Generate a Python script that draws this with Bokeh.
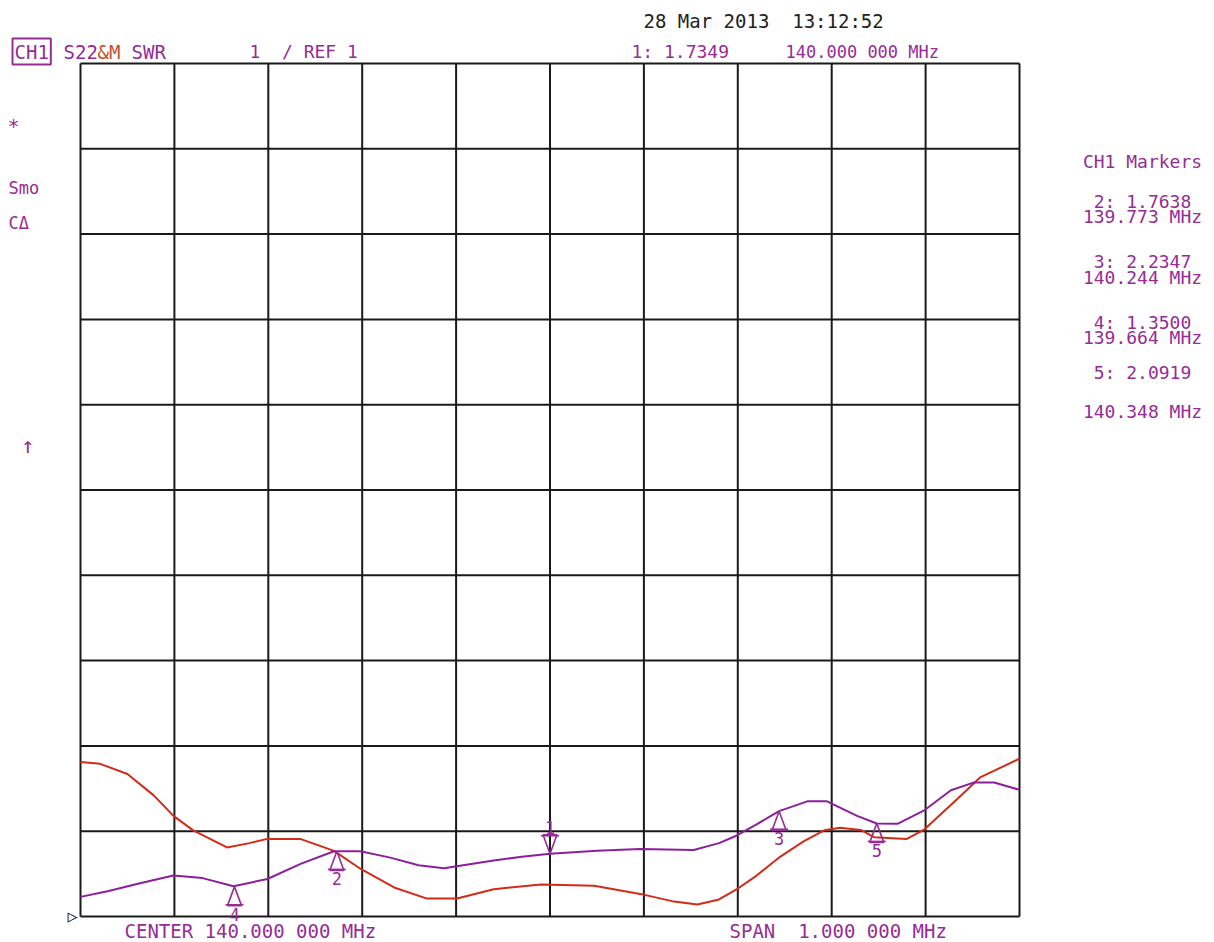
from bokeh.plotting import figure
from bokeh.models import Label, Range1d, ColumnDataSource
from bokeh.embed import file_html
from bokeh.resources import INLINE
from bokeh.core.properties import value

# ---------------- data ----------------
f_start, f_stop = 139.5, 140.5
swr_ref, swr_div, n_div = 1.0, 1.0, 10

purple_freq = [139.500, 139.530, 139.560, 139.599, 139.630, 139.663, 139.699, 139.735,
               139.770, 139.798, 139.830, 139.860, 139.887, 139.940, 139.970, 140.000,
               140.050, 140.096, 140.153, 140.180, 140.199, 140.220, 140.244, 140.274,
               140.295, 140.327, 140.348, 140.370, 140.398, 140.427, 140.451, 140.473, 140.500]
purple_swr = [1.23, 1.30, 1.38, 1.48, 1.45, 1.355, 1.44, 1.62,
              1.765, 1.765, 1.69, 1.60, 1.566, 1.656, 1.70, 1.735,
              1.77, 1.79, 1.78, 1.86, 1.95, 2.08, 2.235, 2.35,
              2.35, 2.18, 2.09, 2.087, 2.24, 2.48, 2.57, 2.57, 2.485]

red_freq = [139.500, 139.521, 139.550, 139.578, 139.599, 139.620, 139.656, 139.680,
            139.699, 139.734, 139.770, 139.798, 139.834, 139.869, 139.901, 139.940,
            139.990, 140.047, 140.096, 140.130, 140.157, 140.180, 140.199, 140.220,
            140.245, 140.270, 140.292, 140.309, 140.331, 140.345, 140.380, 140.398,
            140.434, 140.458, 140.500]
red_swr = [2.81, 2.79, 2.67, 2.42, 2.18, 2.01, 1.81, 1.86,
           1.91, 1.91, 1.77, 1.56, 1.34, 1.21, 1.21, 1.32,
           1.375, 1.36, 1.265, 1.18, 1.14, 1.20, 1.32, 1.48,
           1.70, 1.88, 2.01, 2.04, 2.015, 1.93, 1.91, 2.015,
           2.38, 2.63, 2.85]

marker_ids = ["1", "2", "3", "4", "5"]
marker_freqs = [140.000, 139.773, 140.244, 139.664, 140.348]
marker_vals = [1.7349, 1.7638, 2.2347, 1.3500, 2.0919]
active_marker = "1"

NB = "\u00a0"
date_text = f"28 Mar 2013 {NB}13:12:52"
scale_text = f"1 {NB}/ REF 1"
center_text = "CENTER 140.000 000 MHz"
span_text = f"SPAN {NB}1.000 000 MHz"

# ---------------- style ----------------
PURPLE = "#8c1f9c"
TPURPLE = "#962c96"
RED = "#d42a18"
ORANGE = "#c8502a"
GRIDC = "#1a1a1a"
FONT = "DejaVu Sans Mono"

W, H = 1212, 940
GL, GT, GW, GH = 80, 63, 939, 853   # grid box in canvas pixels
PXX = GW / (f_stop - f_start)
PXY = GH / (n_div * swr_div)

def fx(px):   # canvas px -> data x
    return f_start + (px - GL) / PXX

def fy(py):   # canvas px -> data y
    return swr_ref + (GT + GH - py) / PXY

p = figure(width=W, height=H, output_backend="svg", toolbar_location=None,
           x_range=Range1d(fx(0), fx(W)), y_range=Range1d(fy(H), fy(0)),
           x_axis_location=None, y_axis_location=None, title=None,
           min_border=0, min_border_left=0, min_border_top=0,
           min_border_right=0, min_border_bottom=0)
p.xgrid.visible = False
p.ygrid.visible = False
p.background_fill_color = "white"
p.border_fill_color = "white"
p.outline_line_color = None

# graticule (10 x 10 divisions)
xt = [f_start + i * (f_stop - f_start) / n_div for i in range(n_div + 1)]
yt = [swr_ref + i * swr_div for i in range(n_div + 1)]
p.segment(x0=xt, y0=[yt[0]] * len(xt), x1=xt, y1=[yt[-1]] * len(xt),
          line_color=GRIDC, line_width=2)
p.segment(x0=[xt[0]] * len(yt), y0=yt, x1=[xt[-1]] * len(yt), y1=yt,
          line_color=GRIDC, line_width=2)

# traces
p.line(red_freq, red_swr, line_color=RED, line_width=2)
p.line(purple_freq, purple_swr, line_color=PURPLE, line_width=2)

# marker glyphs
hw = 7 / PXX
th = 19 / PXY
bw = 9 / PXX
xs, ys, sx0, sx1, sy = [], [], [], [], []
up, dn = dict(x=[], y=[], t=[]), dict(x=[], y=[], t=[])
for mid, mf, mv in zip(marker_ids, marker_freqs, marker_vals):
    d = 1 if mid == active_marker else -1
    xs.append([mf, mf - hw, mf + hw])
    ys.append([mv, mv + d * th, mv + d * th])
    sx0.append(mf - bw); sx1.append(mf + bw); sy.append(mv + d * th * 0.95)
    tgt = up if d == 1 else dn
    tgt["x"].append(mf); tgt["y"].append(mv + d * th); tgt["t"].append(mid)
p.patches(xs, ys, fill_color=None, line_color=TPURPLE, line_width=1.6)
p.segment(sx0, sy, sx1, sy, line_color=TPURPLE, line_width=1.6)
p.text(x="x", y="y", text="t", source=ColumnDataSource(up), text_font=value(FONT),
       text_font_size="17px", text_color=TPURPLE, text_align="center",
       text_baseline="bottom", y_offset=-1)
p.text(x="x", y="y", text="t", source=ColumnDataSource(dn), text_font=value(FONT),
       text_font_size="17px", text_color=TPURPLE, text_align="center",
       text_baseline="top", y_offset=2)

def lab(txt, px, py, color=TPURPLE, size="18px", align="left", **kw):
    # py is the vertical middle of the text line, in canvas pixels
    p.add_layout(Label(x=fx(px), y=fy(py), text=txt, text_font=FONT, text_font_size=size,
                       text_color=color, text_align=align, text_baseline="middle", **kw))

# header
lab(date_text, 643, 20, color="#222222", size="19px")
lab("CH1", 12, 51, size="19px", border_line_color=TPURPLE, border_line_width=2, padding=2)
lab("S22", 63, 51, size="19px")
lab("&M", 97, 51, color=ORANGE, size="19px")
lab("SWR", 131, 51, size="19px")
lab(scale_text, 249, 51, size="18px")
act = marker_ids.index(active_marker)
lab(f"{marker_ids[act]}: {marker_vals[act]:.4f}", 631, 51, size="18px")
lab(f"{marker_freqs[act]:.3f} 000 MHz", 785, 51, size="17px")

# left annotations
lab("*", 13, 125, size="20px", align="center")
lab("Smo", 8, 187, size="17px")
lab("C\u0394", 8, 222, size="17px")
lab("\u2191", 27, 445, size="22px", align="center")
lab("\u25b7", 72, 915, size="17px", color="#222222", align="center")

# right marker panel
lab("CH1 Markers", 1142, 161, align="center")
panel_y = {"2": (201, 216), "3": (261, 277), "4": (322, 337), "5": (372, 411)}
for mid, mf, mv in zip(marker_ids, marker_freqs, marker_vals):
    if mid == active_marker:
        continue
    y1, y2 = panel_y[mid]
    lab(f"{mid}: {mv:.4f}", 1142, y1, align="center")
    lab(f"{mf:.3f} MHz", 1142, y2, align="center")

# bottom
lab(center_text, 124, 930, size="19px")
lab(span_text, 729, 930, size="19px")

open("out.html", "w").write(file_html(p, INLINE))
